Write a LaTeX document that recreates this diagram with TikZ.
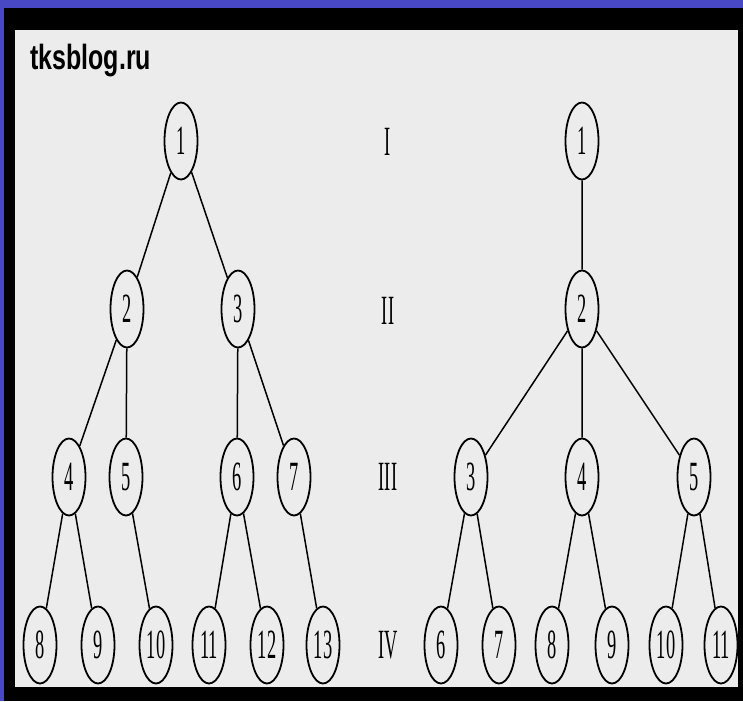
\documentclass[tikz,border=0pt]{standalone}
\usepackage{fontspec}
\usepackage{graphicx}
\usepackage{tikz}
\usetikzlibrary{shapes.geometric}
\setmainfont{Liberation Serif}
\newfontfamily\blogfont{Liberation Sans}
\newcommand{\stretchtxt}[1]{\scalebox{1.15}[2.6]{#1}}
\definecolor{slideblue}{RGB}{72,72,196}
\definecolor{scanpaper}{RGB}{236,236,236}

\begin{document}
\begin{tikzpicture}[x=1pt,y=-1pt,
   vertex/.style={draw,ellipse,line width=1.8pt,inner sep=0pt,
      minimum width=33pt,minimum height=77pt,
      font=\fontsize{16pt}{16pt}\selectfont},
   levelname/.style={inner sep=0pt,font=\fontsize{16pt}{16pt}\selectfont},
   branch/.style={line width=1.5pt}]
\useasboundingbox (0,0) rectangle (743,701);
\fill[slideblue] (0,0) rectangle (743,701);
\fill[black] (4,8) rectangle (743,701);
\fill[scanpaper] (15,30) rectangle (738,687);
\node[anchor=base west,inner sep=0pt] (blog) at (30,70)
   {\scalebox{1}[1.4]{\blogfont\bfseries\fontsize{25pt}{25pt}\selectfont tksblog.ru}};
\node[vertex] (l1) at (181,141) {\stretchtxt{1}};
\node[vertex] (l2) at (127,309) {\stretchtxt{2}};
\node[vertex] (l3) at (238,309) {\stretchtxt{3}};
\node[vertex] (l4) at (69,477) {\stretchtxt{4}};
\node[vertex] (l5) at (126,477) {\stretchtxt{5}};
\node[vertex] (l6) at (237,477) {\stretchtxt{6}};
\node[vertex] (l7) at (294,477) {\stretchtxt{7}};
\node[vertex] (l8) at (40,645) {\stretchtxt{8}};
\node[vertex] (l9) at (98,645) {\stretchtxt{9}};
\node[vertex] (l10) at (156,645) {\stretchtxt{10}};
\node[vertex] (l11) at (209,645) {\stretchtxt{11}};
\node[vertex] (l12) at (267,645) {\stretchtxt{12}};
\node[vertex] (l13) at (323,645) {\stretchtxt{13}};
\draw[branch] (l1) -- (l2) (l1) -- (l3)
   (l2) -- (l4) (l2) -- (l5) (l3) -- (l6) (l3) -- (l7)
   (l4) -- (l8) (l4) -- (l9) (l5) -- (l10)
   (l6) -- (l11) (l6) -- (l12) (l7) -- (l13);
\node[levelname] (lvI) at (388,142) {\stretchtxt{I}};
\node[levelname] (lvII) at (388,311) {\stretchtxt{II}};
\node[levelname] (lvIII) at (388,477) {\stretchtxt{III}};
\node[levelname] (lvIV) at (388,645) {\stretchtxt{IV}};
\node[vertex] (r1) at (582,141) {\stretchtxt{1}};
\node[vertex] (r2) at (582,309) {\stretchtxt{2}};
\node[vertex] (r3) at (471,477) {\stretchtxt{3}};
\node[vertex] (r4) at (582,477) {\stretchtxt{4}};
\node[vertex] (r5) at (694,477) {\stretchtxt{5}};
\node[vertex] (r6) at (441,645) {\stretchtxt{6}};
\node[vertex] (r7) at (499,645) {\stretchtxt{7}};
\node[vertex] (r8) at (552,645) {\stretchtxt{8}};
\node[vertex] (r9) at (612,645) {\stretchtxt{9}};
\node[vertex] (r10) at (666,645) {\stretchtxt{10}};
\node[vertex] (r11) at (721,645) {\stretchtxt{11}};
\draw[branch] (r1) -- (r2)
   (r2) -- (r3) (r2) -- (r4) (r2) -- (r5)
   (r3) -- (r6) (r3) -- (r7) (r4) -- (r8) (r4) -- (r9)
   (r5) -- (r10) (r5) -- (r11);
\end{tikzpicture}
\end{document}
